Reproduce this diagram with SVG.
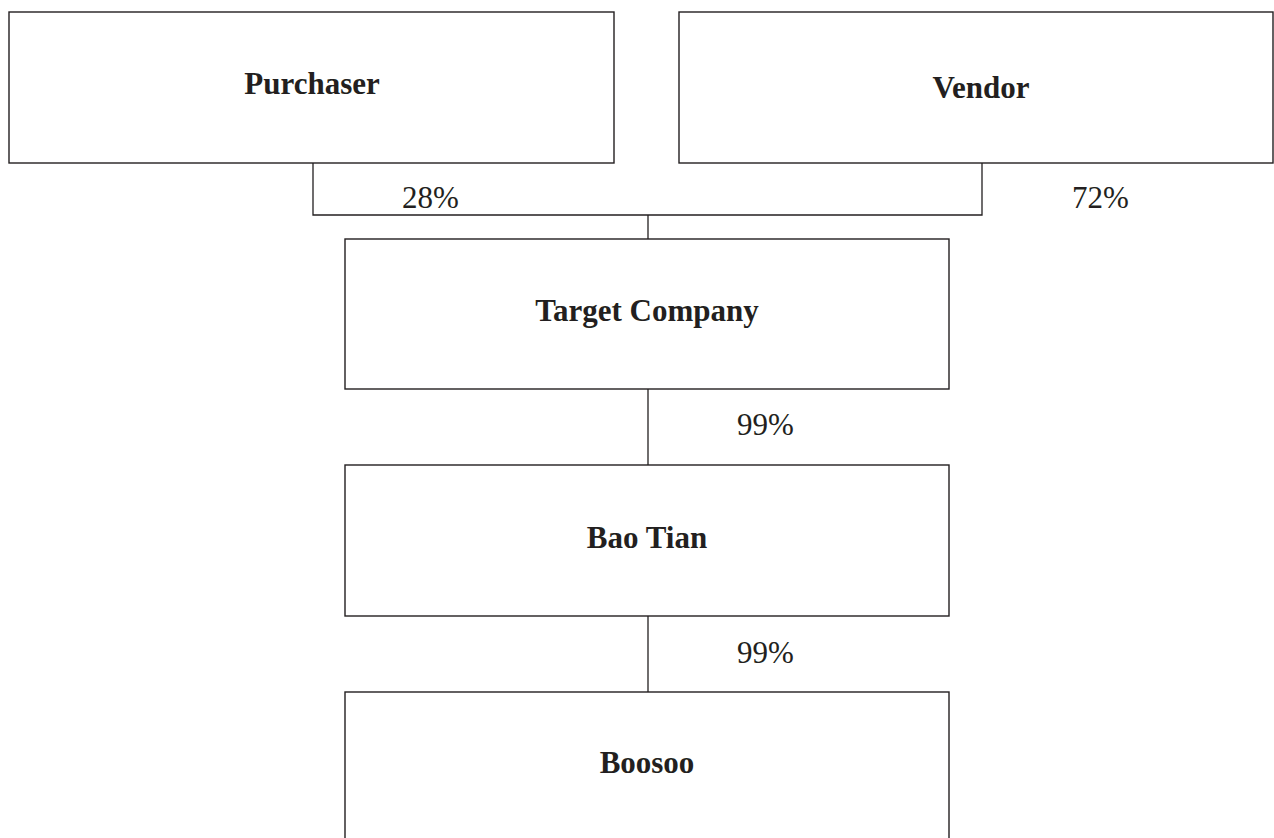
<svg xmlns="http://www.w3.org/2000/svg" width="1274" height="838" viewBox="0 0 1274 838">
<style>
.box{fill:#fff;stroke:#231f20;stroke-width:1.4}
.name{font-family:"Liberation Serif","Times New Roman",serif;font-weight:bold;font-size:31px;fill:#231f20;text-anchor:middle}
.pct{font-family:"Liberation Serif","Times New Roman",serif;font-size:31px;fill:#231f20}
.conn{fill:none;stroke:#231f20;stroke-width:1.3}
</style>
<rect width="1274" height="838" fill="#fff"/>
<g id="connectors">
<polyline class="conn" points="313,163 313,215 982,215 982,163"/>
<line class="conn" x1="648" y1="215" x2="648" y2="239"/>
<line class="conn" x1="648" y1="389" x2="648" y2="465"/>
<line class="conn" x1="648" y1="616" x2="648" y2="692"/>
<text class="pct" x="402" y="208">28%</text>
<text class="pct" x="1072" y="208">72%</text>
<text class="pct" x="737" y="435">99%</text>
<text class="pct" x="737" y="663">99%</text>
</g>
<g id="purchaser">
<rect class="box" x="9" y="12" width="605" height="151"/>
<text class="name" x="312" y="94">Purchaser</text>
</g>
<g id="vendor">
<rect class="box" x="679" y="12" width="594" height="151"/>
<text class="name" x="981" y="98">Vendor</text>
</g>
<g id="target">
<rect class="box" x="345" y="239" width="604" height="150"/>
<text class="name" x="647" y="321">Target Company</text>
</g>
<g id="baotian">
<rect class="box" x="345" y="465" width="604" height="151"/>
<text class="name" x="647" y="548">Bao Tian</text>
</g>
<g id="boosoo">
<rect class="box" x="345" y="692" width="604" height="170"/>
<text class="name" x="647" y="773">Boosoo</text>
</g>
</svg>
